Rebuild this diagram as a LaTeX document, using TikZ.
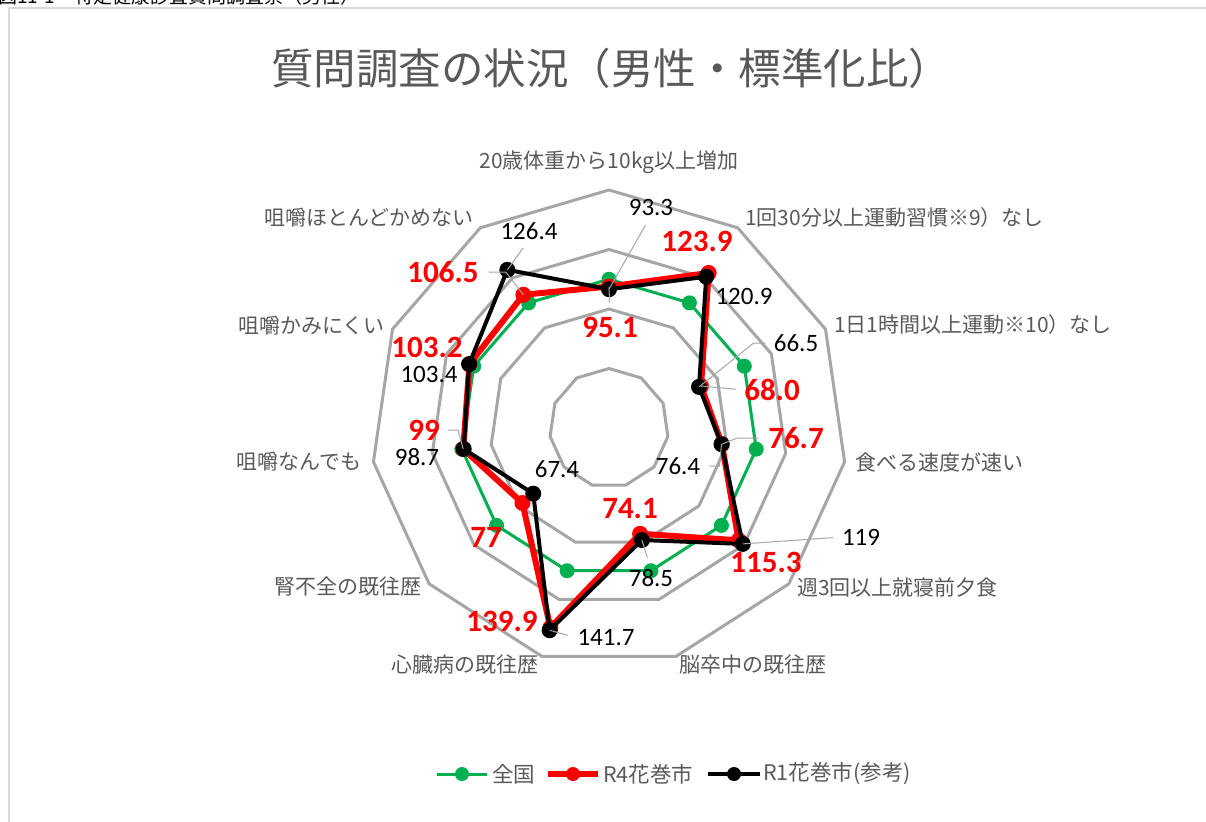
\documentclass[tikz,border=0pt]{standalone}
\usepackage{fontspec}
\setmainfont{Carlito}
\newfontfamily\jp{Noto Sans CJK JP}
\definecolor{gridgray}{HTML}{A6A6A6}
\definecolor{textgray}{HTML}{595959}
\definecolor{zengreen}{HTML}{00B050}
\begin{document}
\begin{tikzpicture}[x=1pt,y=-1pt,every node/.style={inner sep=0pt},
  axislbl/.style={text=textgray,font=\jp\fontsize{21}{21}\selectfont},
  legendlbl/.style={text=textgray,anchor=west,font=\jp\fontsize{21.5}{21.5}\selectfont},
  blk/.style={font=\fontsize{25}{25}\selectfont},
  rd/.style={red,font=\bfseries\fontsize{31}{31}\selectfont},
  lead/.style={gridgray,line width=1pt},
  zen/.style={zengreen,line width=3pt,line join=round},
  rfour/.style={red,line width=6pt,line join=round},
  rone/.style={black,line width=4pt,line join=round}]
  \useasboundingbox (0,0) rectangle (1206,821);
  \node [anchor=base west,font=\jp\fontsize{19}{19}\selectfont] (caption) at (-2,3.5) {図11-1　特定健康診査質問調査票（男性）};
  \draw [black!15,line width=1.5pt] (9,830) -- (9,8) -- (1215,8);
  \node [text=textgray,font=\jp\fontsize{42.5}{42.5}\selectfont] (title) at (611,68) {質問調査の状況（男性・標準化比）};
  \begin{scope}[shift={(609,428)},x=1.4875pt,y=-1.4875pt]
    \foreach \v in {40,80,120,160}
      \draw [gridgray,line width=3pt] (-90:\v) \foreach \k in {1,...,10} {-- ({\k*360/11-90}:\v)} -- cycle;
    \foreach \k in {0,...,10} \coordinate (g\k) at ({\k*360/11-90}:100);
    \foreach \v [count=\k from 0] in {95.1,123.9,68.0,76.7,115.3,74.1,139.9,77,99,103.2,106.5}
      \coordinate (r\k) at ({\k*360/11-90}:\v);
    \foreach \v [count=\k from 0] in {93.3,120.9,66.5,76.4,119,78.5,141.7,67.4,98.7,103.4,126.4}
      \coordinate (b\k) at ({\k*360/11-90}:\v);
    \draw [zen] (g0) \foreach \k in {1,...,10} {-- (g\k)} -- cycle;
    \foreach \k in {0,...,10} \fill [zengreen] (g\k) circle (7.5pt);
    \draw [rfour] (r0) \foreach \k in {1,...,10} {-- (r\k)} -- cycle;
    \foreach \k in {0,...,10} \fill [red] (r\k) circle (8pt);
    \draw [rone] (b0) \foreach \k in {1,...,10} {-- (b\k)} -- cycle;
    \foreach \k in {0,...,10} \fill [black] (b\k) circle (8pt);
  \end{scope}

  \node [axislbl] (ax0) at (609,162) {20歳体重から10kg以上増加};
  \node [axislbl,anchor=west] (ax1) at (745,218) {1回30分以上運動習慣※9）なし};
  \node [axislbl,anchor=west] (ax2) at (834,325) {1日1時間以上運動※10）なし};
  \node [axislbl,anchor=west] (ax3) at (855,462) {食べる速度が速い};
  \node [axislbl,anchor=west] (ax4) at (797,588) {週3回以上就寝前夕食};
  \node [axislbl] (ax5) at (753,665) {脳卒中の既往歴};
  \node [axislbl] (ax6) at (465,665) {心臓病の既往歴};
  \node [axislbl,anchor=east] (ax7) at (422,587) {腎不全の既往歴};
  \node [axislbl,anchor=east] (ax8) at (362,462) {咀嚼なんでも};
  \node [axislbl,anchor=east] (ax9) at (385,326) {咀嚼かみにくい};
  \node [axislbl,anchor=east] (ax10) at (474,218) {咀嚼ほとんどかめない};

  \node [blk] (lb0) at (651,207) {93.3};
  \node [blk] (lb1) at (744,296) {120.9};
  \node [blk] (lb2) at (796,343) {66.5};
  \node [blk] (lb3) at (678,466) {76.4};
  \node [blk] (lb4) at (861,537) {119};
  \node [blk] (lb5) at (651,578) {78.5};
  \node [blk] (lb6) at (606,638) {141.7};
  \node [blk] (lb7) at (557,469) {67.4};
  \node [blk] (lb8) at (417,457) {98.7};
  \node [blk] (lb9) at (429,374) {103.4};
  \node [blk] (lb10) at (529,231) {126.4};

  \node [rd] (lr0) at (610,327) {95.1};
  \node [rd] (lr1) at (697,241) {123.9};
  \node [rd] (lr2) at (772,390) {68.0};
  \node [rd] (lr3) at (796,438) {76.7};
  \node [rd] (lr4) at (766,562) {115.3};
  \node [rd] (lr5) at (630,509) {74.1};
  \node [rd] (lr6) at (502,621) {139.9};
  \node [rd] (lr7) at (486,537) {77};
  \node [rd] (lr8) at (424,430) {99};
  \node [rd] (lr9) at (427,347) {103.2};
  \node [rd] (lr10) at (443,272) {106.5};

  \draw [lead,shorten <=11pt] (lb0.south) -- (b0);
  \draw [lead,shorten <=14pt] (lr0.north) -- (r0);
  \draw [lead,shorten <=10pt] (lb10.south) -- (b10);
  \draw [lead] (lr10.east) ++(10,0) -- ++(17,0) -- (r10);
  \draw [lead] (lb2.west) ++(-8,0) -- ++(-12,0) -- (b2);
  \draw [lead,shorten <=8pt] (lr2.west) -- (r2);
  \draw [lead] (lr3.west) ++(-10,0) -- ++(-21,0) -- (r3);
  \draw [lead] (lb3.east) ++(9,0) -- ++(10,0) -- (b3);
  \draw [lead,shorten <=9pt] (lb4.west) -- (b4);
  \draw [lead,shorten <=12pt] (lb5.north) -- (b5);
  \draw [lead,shorten <=10pt] (lb6.west) -- (b6);
  \draw [lead] (lr8.east) ++(8,0) -- ++(10,0) -- (r8);

  \draw [zen] (437,774) -- (487,774);
  \fill [zengreen] (462,774) circle (7pt);
  \node [legendlbl] (lg1) at (492,774) {全国};
  \draw [rfour] (548,774) -- (598,774);
  \fill [red] (573,774) circle (7pt);
  \node [legendlbl] (lg2) at (603,774) {R4花巻市};
  \draw [rone] (708,774) -- (760,774);
  \fill [black] (734,774) circle (7pt);
  \node [legendlbl] (lg3) at (763,774) {R1花巻市(参考)};
\end{tikzpicture}
\end{document}
